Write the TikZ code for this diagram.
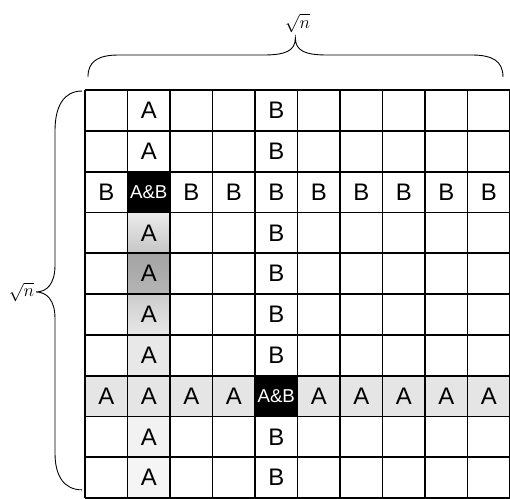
\documentclass[tikz,border=0pt]{standalone}
\usepackage{fontspec}
\setmainfont{Liberation Sans}
\newcommand{\cellfont}{\fontsize{16}{18}\selectfont}
\newcommand{\abfont}{\fontsize{12.5}{13}\selectfont}
\begin{document}
\begin{tikzpicture}[x=1cm, y=0.96cm,
    cell/.style={minimum width=1cm, minimum height=0.96cm, inner sep=0pt, font=\cellfont},
    both/.style={cell, fill=black, text=white, font=\abfont},
    lightA/.style={cell, fill=gray!20},
    gridline/.style={line width=1.2pt},
    brace/.style={line width=0.6pt},
  ]
    \useasboundingbox (-2,-10) rectangle (10,2.206);

    % column A
    \node[cell]                                     (a0) at (1.5,-0.5) {A};
    \node[cell]                                     (a1) at (1.5,-1.5) {A};
    \node[cell, top color=gray!15, bottom color=gray!45] (a3) at (1.5,-3.5) {A};
    \node[cell, top color=gray!72, bottom color=gray!58] (a4) at (1.5,-4.5) {A};
    \node[cell, top color=gray!40, bottom color=gray!18] (a5) at (1.5,-5.5) {A};
    \node[cell, fill=gray!18]                       (a6) at (1.5,-6.5) {A};
    \node[cell, fill=gray!10]                       (a8) at (1.5,-8.5) {A};
    \node[cell, fill=gray!8]                        (a9) at (1.5,-9.5) {A};

    % row A
    \foreach \c in {0,1,2,3,5,6,7,8,9}
      \node[lightA] (r\c) at (\c+0.5,-7.5) {A};
    \node[both] (ab2) at (4.5,-7.5) {A\&B};

    % column B
    \foreach \r in {0,1,3,4,5,6,8,9}
      \node[cell] (b\r) at (4.5,-\r-0.5) {B};

    % row B
    \foreach \c in {0,2,3,4,5,6,7,8,9}
      \node[cell] (s\c) at (\c+0.5,-2.5) {B};
    \node[both] (ab1) at (1.5,-2.5) {A\&B};

    % grid
    \foreach \i in {0,...,10} {
      \draw[gridline] (\i,0) -- (\i,-10);
      \draw[gridline] (0,-\i) -- (10,-\i);
    }

    % braces
    \draw[brace] (0.07,0.319) .. controls (0.07,0.7) and (0.3,0.858) .. (0.8,0.858)
      -- (4.2,0.858) .. controls (4.7,0.858) and (4.95,0.95) .. (4.95,1.275)
      .. controls (4.95,0.95) and (5.2,0.858) .. (5.7,0.858)
      -- (9.1,0.858) .. controls (9.6,0.858) and (9.835,0.7) .. (9.835,0.319);
    \node[inner sep=0pt] (topn) at (5.0,1.64) {\large$\sqrt{n}$};

    \draw[brace] (-0.07,-0.025) .. controls (-0.5,-0.025) and (-0.706,-0.4) .. (-0.706,-1.0)
      -- (-0.706,-4.3) .. controls (-0.706,-4.75) and (-0.9,-4.95) .. (-1.153,-4.95)
      .. controls (-0.9,-4.95) and (-0.706,-5.15) .. (-0.706,-5.6)
      -- (-0.706,-8.9) .. controls (-0.706,-9.45) and (-0.5,-9.8) .. (-0.07,-9.8);
    \node[anchor=east, inner sep=1pt] (leftn) at (-1.153,-4.95) {\large$\sqrt{n}$};
  \end{tikzpicture}
\end{document}
